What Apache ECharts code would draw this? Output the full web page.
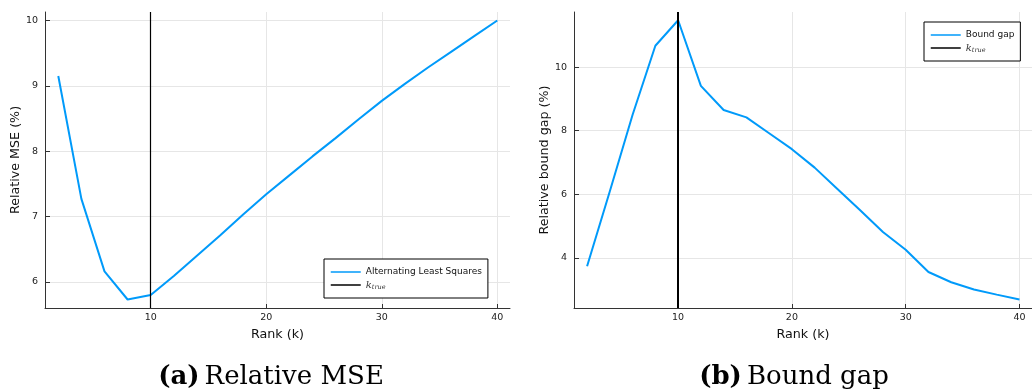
<!DOCTYPE html>
<html>
<head>
<meta charset="utf-8">
<script src="https://cdn.jsdelivr.net/npm/echarts@6/dist/echarts.min.js"></script>
<style>
html,body{margin:0;padding:0;background:#fff;}
#chart{width:1032px;height:390px;}
</style>
</head>
<body>
<div id="chart"></div>
<script>
// ---- data ----
const ranks = [2,4,6,8,10,12,14,16,18,20,22,24,26,28,30,32,34,36,38,40];
const relativeMSE = [9.15,7.27,6.16,5.73,5.80,6.09,6.40,6.71,7.03,7.34,7.63,7.92,8.20,8.49,8.77,9.03,9.28,9.52,9.76,10.00];
const boundGap = [3.74,6.10,8.50,10.67,11.47,9.41,8.65,8.42,7.92,7.42,6.84,6.17,5.50,4.82,4.26,3.56,3.24,3.01,2.85,2.70];
const kTrue = 10;
const xTicks = [10,20,30,40];
const yTicksMSE = [6,7,8,9,10];
const yTicksGap = [4,6,8,10];
const seriesNames = ['Alternating Least Squares','Bound gap','k_true'];
const captions = [['(a)','Relative MSE'],['(b)','Bound gap']];

const BLUE = '#009AFA';
const SANS = 'DejaVu Sans';
const AXIS = '#333333';

function pairs(xs, ys){ return xs.map((x,i)=>[x, ys[i]]); }

function xAxis(gi){
  return {
    type:'value', gridIndex:gi, min:0.85, max:41.1,
    name:'Rank (k)', nameLocation:'middle', nameGap:18,
    nameTextStyle:{fontFamily:SANS, fontSize:12.7, color:'#111'},
    axisLine:{show:true, lineStyle:{color:AXIS, width:1}},
    axisTick:{show:true, inside:true, length:4, customValues:xTicks, lineStyle:{color:AXIS}},
    axisLabel:{customValues:xTicks, fontFamily:SANS, fontSize:9.5, color:'#222', margin:5},
    splitLine:{show:true, lineStyle:{color:'#e6e6e6', width:1}}
  };
}
function yAxis(gi, min, max, ticks, name){
  return {
    type:'value', gridIndex:gi, min:min, max:max,
    name:name, nameLocation:'middle', nameGap:21.5, nameRotate:90,
    nameTextStyle:{fontFamily:SANS, fontSize:12.7, color:'#111'},
    axisLine:{show:true, lineStyle:{color:AXIS, width:1}},
    axisTick:{show:true, inside:true, length:5, customValues:ticks, lineStyle:{color:AXIS}},
    axisLabel:{customValues:ticks, fontFamily:SANS, fontSize:9.5, color:'#222', margin:7},
    splitLine:{show:true, lineStyle:{color:'#e6e6e6', width:1}}
  };
}
function kLine(xi, yi, w){
  return {
    name:seriesNames[2], type:'line', xAxisIndex:xi, yAxisIndex:yi, data:[],
    symbol:'none', showSymbol:false,
    lineStyle:{color:'#000', width:1.5}, itemStyle:{color:'#000'},
    markLine:{silent:true, symbol:'none', label:{show:false},
      lineStyle:{color:'#000', width:w, type:'solid'},
      data:[{xAxis:kTrue}]}
  };
}
const legendText = {
  fontFamily:SANS, fontSize:9, color:'#111', lineHeight:12,
  rich:{
    k:{fontFamily:'DejaVu Serif', fontStyle:'italic', fontSize:10, color:'#333', lineHeight:12},
    s:{fontFamily:'DejaVu Serif', fontStyle:'italic', fontSize:6.5, color:'#333', verticalAlign:'bottom', lineHeight:12, padding:[4,0,0,0]}
  }
};
function legendFmt(n){ return n==='k_true' ? '{k|k}{s|true}' : n; }
function legend(names, left, top){
  return {
    data:names, orient:'vertical', left:left, top:top,
    itemWidth:30, itemHeight:12, itemGap:1,
    padding:[7,6,7,6], borderColor:'#000', borderWidth:1, backgroundColor:'#fff',
    itemStyle:{opacity:0, borderWidth:0},
    lineStyle:{width:1.5},
    textStyle:legendText, formatter:legendFmt, selectedMode:false
  };
}
function caption(c, center){
  return {
    text:'{b|'+c[0]+'} {r|'+c[1]+'}', left:center, top:359, textAlign:'center',
    textStyle:{fontWeight:'normal', rich:{
      b:{fontFamily:'DejaVu Serif', fontWeight:'bold', fontSize:26, color:'#000'},
      r:{fontFamily:'DejaVu Serif', fontWeight:'normal', fontSize:26, color:'#000'}
    }}
  };
}

const chart = echarts.init(document.getElementById('chart'), null, {renderer:'canvas'});
chart.setOption({
  animation:false,
  backgroundColor:'#fff',
  title:[caption(captions[0], 266), caption(captions[1], 789)],
  grid:[
    {left:45, right:522, top:12, bottom:82, containLabel:false},
    {left:574, right:-6, top:12, bottom:82, containLabel:false}
  ],
  xAxis:[xAxis(0), xAxis(1)],
  yAxis:[
    yAxis(0, 5.60, 10.13, yTicksMSE, 'Relative MSE (%)'),
    yAxis(1, 2.43, 11.73, yTicksGap, 'Relative bound gap (%)')
  ],
  legend:[
    legend([seriesNames[0], seriesNames[2]], 324, 259),
    legend([seriesNames[1], {name:seriesNames[2]}], 924, 22)
  ],
  series:[
    {name:seriesNames[0], type:'line', xAxisIndex:0, yAxisIndex:0, data:pairs(ranks, relativeMSE),
     symbol:'none', showSymbol:false, lineStyle:{color:BLUE, width:2}, itemStyle:{color:BLUE}},
    kLine(0,0,1.2),
    {name:seriesNames[1], type:'line', xAxisIndex:1, yAxisIndex:1, data:pairs(ranks, boundGap),
     symbol:'none', showSymbol:false, lineStyle:{color:BLUE, width:2}, itemStyle:{color:BLUE}},
    kLine(1,1,2)
  ]
});
</script>
</body>
</html>
